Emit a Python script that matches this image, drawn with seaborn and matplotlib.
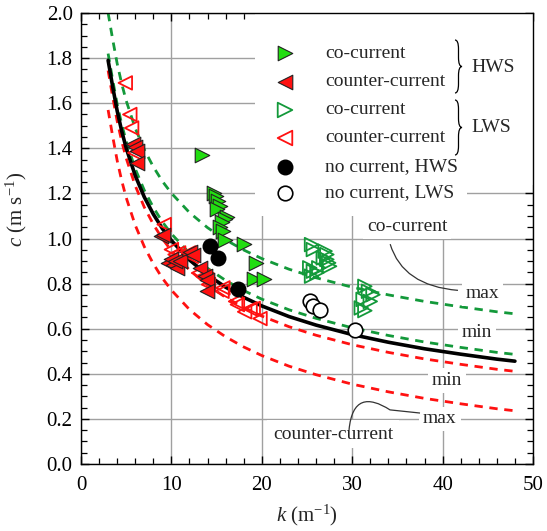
import numpy as np
import pandas as pd
import matplotlib
matplotlib.use("Agg")
import matplotlib.pyplot as plt
from matplotlib.path import Path
from matplotlib.patches import PathPatch, Rectangle
import seaborn as sns

# ---------------- data ----------------
k_curve = [3, 3.5, 4, 4.5, 5, 6, 7, 8, 9, 10, 12, 14, 16, 18, 20, 23, 26, 30, 34, 38, 42, 46, 48]
c_still = [1.79, 1.674, 1.566, 1.477, 1.401, 1.279, 1.184, 1.108, 1.044, 0.991, 0.905, 0.838, 0.784,
           0.739, 0.701, 0.654, 0.616, 0.574, 0.540, 0.511, 0.487, 0.465, 0.456]
c_co_max = [2.00, 1.884, 1.776, 1.687, 1.611, 1.489, 1.394, 1.318, 1.254, 1.201, 1.115, 1.048, 0.994,
            0.949, 0.911, 0.864, 0.826, 0.784, 0.750, 0.721, 0.697, 0.675, 0.666]
c_co_min = [1.82, 1.704, 1.596, 1.507, 1.431, 1.309, 1.214, 1.138, 1.074, 1.021, 0.935, 0.868, 0.814,
            0.769, 0.731, 0.684, 0.646, 0.604, 0.570, 0.541, 0.517, 0.495, 0.486]
c_ctr_min = [1.745, 1.629, 1.521, 1.432, 1.356, 1.234, 1.139, 1.063, 0.999, 0.946, 0.860, 0.793, 0.739,
             0.694, 0.656, 0.609, 0.571, 0.529, 0.495, 0.466, 0.442, 0.420, 0.411]
c_ctr_max = [1.57, 1.454, 1.346, 1.257, 1.181, 1.059, 0.964, 0.888, 0.824, 0.771, 0.685, 0.618, 0.564,
             0.519, 0.481, 0.434, 0.396, 0.354, 0.320, 0.291, 0.267, 0.245, 0.236]

hws_co_k = [13.35, 14.7, 14.9, 15.2, 15.4, 15.0, 16.2, 15.9, 15.6, 15.4, 15.7, 15.9, 18.0, 19.4, 19.1, 20.2]
hws_co_c = [1.37, 1.20, 1.19, 1.165, 1.145, 1.13, 1.095, 1.085, 1.075, 1.05, 1.035, 0.995, 0.975, 0.89, 0.82, 0.82]

hws_ctr_k = [5.8, 6.0, 6.15, 6.2, 8.85, 9.1, 9.65, 10.0, 10.2, 10.6, 10.4, 10.9, 12.05, 12.4, 13.2, 13.7, 13.9, 13.95]
hws_ctr_c = [1.42, 1.405, 1.39, 1.335, 1.01, 1.015, 0.892, 0.907, 0.884, 0.87, 0.899, 0.899, 0.94, 0.925,
             0.87, 0.833, 0.818, 0.766]

lws_co_k = [25.5, 25.7, 27.0, 27.2, 27.2, 27.4, 27.5, 26.8, 25.3, 25.7, 26.1, 25.5, 26.3,
            31.4, 31.8, 32.3, 31.2, 32.0, 31.0, 31.4]
lws_co_c = [0.973, 0.951, 0.944, 0.929, 0.907, 0.892, 0.877, 0.914, 0.870, 0.855, 0.848, 0.833, 0.870,
            0.788, 0.766, 0.751, 0.730, 0.721, 0.692, 0.680]

lws_ctr_k = [4.9, 5.4, 5.6, 5.95, 9.2, 10.0, 10.4, 10.65, 10.8, 11.9, 12.2, 13.0, 13.5, 13.9, 14.1,
             15.7, 15.6, 17.1, 17.3, 18.1, 18.7, 19.05, 19.8]
lws_ctr_c = [1.69, 1.55, 1.49, 1.38, 1.062, 0.951, 0.929, 0.921, 0.936, 0.936, 0.921, 0.847, 0.832,
             0.818, 0.796, 0.781, 0.766, 0.721, 0.707, 0.675, 0.688, 0.690, 0.645]

nc_hws_k = [14.3, 15.1, 17.4]
nc_hws_c = [0.966, 0.914, 0.776]
nc_lws_k = [25.3, 25.7, 26.4, 30.3]
nc_lws_c = [0.721, 0.702, 0.684, 0.596]

legend_labels = ["co-current", "counter-current", "co-current", "counter-current",
                 "no current, HWS", "no current, LWS"]

# ---------------- style ----------------
sns.set_style("ticks")
plt.rcParams["font.family"] = ["Liberation Serif", "DejaVu Serif"]
plt.rcParams["mathtext.fontset"] = "custom"
plt.rcParams["mathtext.rm"] = "Liberation Serif"
plt.rcParams["mathtext.it"] = "Liberation Serif:italic"

GREEN_FILL = "#22dd11"
GREEN_LINE = "#13993a"
RED = "#ff1111"

fig = plt.figure(figsize=(5.47, 5.31), dpi=100)
ax = fig.add_axes([81 / 547, 1 - 464 / 531, 452 / 547, 451 / 531])

ax.set_xlim(0, 50)
ax.set_ylim(0, 2.0)
ax.set_xticks(np.arange(0, 51, 10))
ax.set_yticks(np.arange(0, 2.01, 0.2))
ax.set_xticks(np.arange(0, 51, 2), minor=True)
ax.set_yticks(np.arange(0, 2.001, 0.05), minor=True)
ax.set_yticklabels([f"{v:.1f}" for v in np.arange(0, 2.01, 0.2)])
ax.tick_params(which="both", direction="in", top=True, right=True, colors="black", labelsize=15)
ax.tick_params(which="major", length=6, width=1.0)
ax.tick_params(which="minor", length=4, width=0.9)
ax.tick_params(axis="x", pad=9)
ax.tick_params(axis="y", pad=6)
ax.set_axisbelow(True)
ax.grid(True, which="major", color="#a0a0a0", lw=1.0)
for s in ax.spines.values():
    s.set_color("black")
    s.set_linewidth(1.0)

# white backgrounds behind the legend
ax.add_patch(Rectangle(((255 - 81) / 452, (464 - 185) / 451), 1 - (255 - 81) / 452, 1 - (464 - 185) / 451,
                       transform=ax.transAxes, facecolor="white", edgecolor="none", zorder=1))
ax.add_patch(Rectangle(((255 - 81) / 452, (464 - 216) / 451), (467 - 255) / 452, (216 - 184) / 451,
                       transform=ax.transAxes, facecolor="white", edgecolor="none", zorder=1))

# ---------------- curves ----------------
curves = pd.DataFrame({"k": k_curve, "still": c_still, "co_max": c_co_max, "co_min": c_co_min,
                       "ctr_min": c_ctr_min, "ctr_max": c_ctr_max})
dash = (0, (3.0, 2.4))
for col, colr in [("co_max", GREEN_LINE), ("co_min", GREEN_LINE), ("ctr_min", RED), ("ctr_max", RED)]:
    sns.lineplot(data=curves, x="k", y=col, ax=ax, color=colr, lw=2.0, linestyle=dash,
                 estimator=None, sort=False, zorder=2)
sns.lineplot(data=curves, x="k", y="still", ax=ax, color="black", lw=2.6,
             estimator=None, sort=False, zorder=2.5)

# ---------------- points ----------------
sns.scatterplot(x=lws_ctr_k, y=lws_ctr_c, ax=ax, marker="<", s=95, facecolor="none",
                edgecolor=RED, linewidth=1.3, zorder=3)
sns.scatterplot(x=lws_co_k, y=lws_co_c, ax=ax, marker=">", s=95, facecolor="none",
                edgecolor=GREEN_LINE, linewidth=1.3, zorder=3)
sns.scatterplot(x=hws_ctr_k, y=hws_ctr_c, ax=ax, marker="<", s=110, color=RED,
                edgecolor="#222222", linewidth=0.8, zorder=3.2)
sns.scatterplot(x=hws_co_k, y=hws_co_c, ax=ax, marker=">", s=110, color=GREEN_FILL,
                edgecolor="#222222", linewidth=0.8, zorder=3.2)
sns.scatterplot(x=nc_hws_k, y=nc_hws_c, ax=ax, marker="o", s=110, color="black",
                edgecolor="black", linewidth=1.0, zorder=3.4)
sns.scatterplot(x=nc_lws_k, y=nc_lws_c, ax=ax, marker="o", s=110, color="white",
                edgecolor="black", linewidth=1.2, zorder=3.4)

ax.set_xlim(0, 50)
ax.set_ylim(0, 2.0)
ax.set_xlabel(r"$k$ (m$^{-1}$)", fontsize=15)
ax.set_ylabel(r"$c$ (m s$^{-1}$)", fontsize=15)
ax.xaxis.set_label_coords(0.5, -0.085)
ax.yaxis.set_label_coords(-0.115, 0.565)

# ---------------- legend (manual) ----------------
def axx(px):
    return (px - 81) / 452


def axy(py):
    return (464 - py) / 451


rows = [53, 82, 110, 138, 167, 193]
styles = [
    dict(marker=">", color=GREEN_FILL, edgecolor="#222222", linewidth=0.8, s=110),
    dict(marker="<", color=RED, edgecolor="#222222", linewidth=0.8, s=110),
    dict(marker=">", facecolor="none", edgecolor=GREEN_LINE, linewidth=1.3, s=110),
    dict(marker="<", facecolor="none", edgecolor=RED, linewidth=1.3, s=110),
    dict(marker="o", color="black", edgecolor="black", linewidth=1.0, s=110),
    dict(marker="o", color="white", edgecolor="black", linewidth=1.2, s=110),
]
for py, lab, st in zip(rows, legend_labels, styles):
    ax.scatter([axx(285)], [axy(py)], transform=ax.transAxes, zorder=5, clip_on=False, **st)
    ax.text(axx(325), axy(py), lab, transform=ax.transAxes, fontsize=14, va="center", ha="left", zorder=5)


def brace(ytop_px, ybot_px, x0_px=455, w_px=7, h_px=9):
    x0, xm, xt = axx(x0_px), axx(x0_px + w_px / 2), axx(x0_px + w_px)
    yt, yb = axy(ytop_px), axy(ybot_px)
    ym = (yt + yb) / 2
    h = h_px / 451
    verts = [(x0, yt), (xm, yt), (xm, yt - h), (xm, ym + h), (xm, ym), (xt, ym),
             (xm, ym), (xm, ym - h), (xm, yb + h), (xm, yb), (x0, yb)]
    codes = [Path.MOVETO, Path.CURVE3, Path.CURVE3, Path.LINETO, Path.CURVE3, Path.CURVE3,
             Path.CURVE3, Path.CURVE3, Path.LINETO, Path.CURVE3, Path.CURVE3]
    ax.add_patch(PathPatch(Path(verts, codes), transform=ax.transAxes, fill=False,
                           edgecolor="black", lw=0.9, zorder=5))


brace(40, 93)
brace(100, 155)
ax.text(axx(471), axy(67), "HWS", transform=ax.transAxes, fontsize=14, va="center", ha="left", zorder=5)
ax.text(axx(471), axy(127), "LWS", transform=ax.transAxes, fontsize=14, va="center", ha="left", zorder=5)

# ---------------- annotations ----------------
bb = dict(boxstyle="square,pad=0.2", facecolor="white", edgecolor="none")
ax.text(36.1, 1.053, "co-current", fontsize=14, ha="center", va="center", bbox=bb, zorder=4)
ax.text(44.4, 0.756, "max", fontsize=14, ha="center", va="center", bbox=bb, zorder=4)
ax.text(43.8, 0.582, "min", fontsize=14, ha="center", va="center", bbox=bb, zorder=4)
ax.text(40.5, 0.369, "min", fontsize=14, ha="center", va="center", bbox=bb, zorder=4)
ax.text(39.7, 0.200, "max", fontsize=14, ha="center", va="center", bbox=bb, zorder=4)
ax.text(27.9, 0.133, "counter-current", fontsize=14, ha="center", va="center",
        bbox=dict(boxstyle="square,pad=0.3", facecolor="white", edgecolor="none"), zorder=4)

lead1 = Path([(34.2, 0.975), (35.6, 0.79), (41.7, 0.770)], [Path.MOVETO, Path.CURVE3, Path.CURVE3])
ax.add_patch(PathPatch(lead1, fill=False, edgecolor="#333333", lw=0.9, zorder=4))
lead2 = Path([(29.65, 0.151), (29.98, 0.293), (31.75, 0.302), (34.18, 0.24), (37.5, 0.226)],
             [Path.MOVETO, Path.CURVE4, Path.CURVE4, Path.CURVE4, Path.LINETO])
ax.add_patch(PathPatch(lead2, fill=False, edgecolor="#333333", lw=0.9, zorder=4))

fig.savefig("out.png", dpi=100)
